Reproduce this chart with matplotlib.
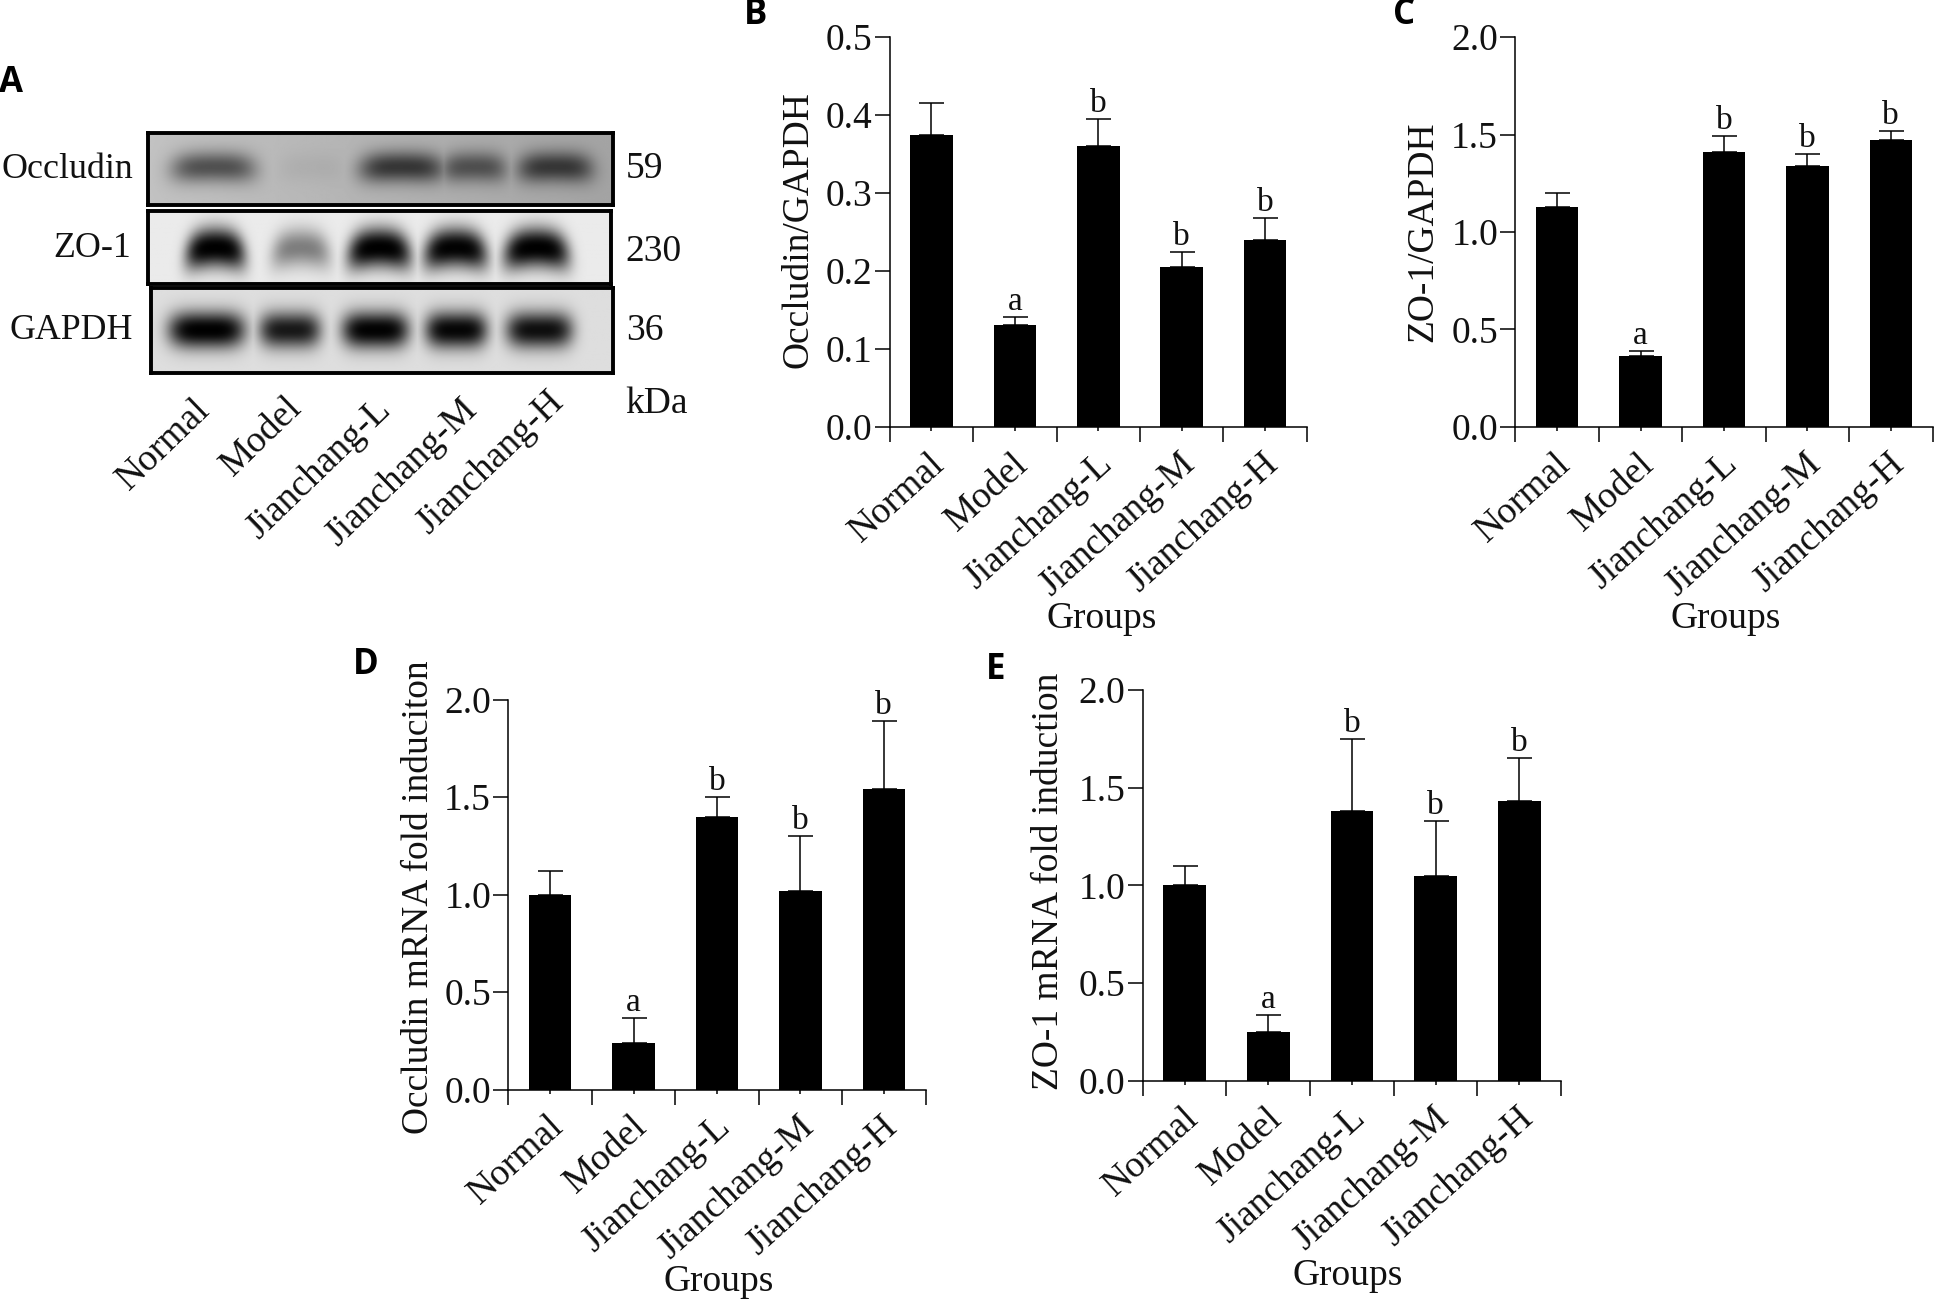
import numpy as np
import matplotlib
matplotlib.use("Agg")
import matplotlib.pyplot as plt
from matplotlib.transforms import ScaledTranslation

W, H = 1935, 1306
S = W / 1568.0  # layout is measured on a 1568-wide view
plt.rcParams['font.family'] = ['Liberation Serif', 'DejaVu Serif']

groups = ['Normal', 'Model', 'Jianchang-L', 'Jianchang-M', 'Jianchang-H']
sig = ['', 'a', 'b', 'b', 'b']

occ_prot = [0.375, 0.131, 0.360, 0.205, 0.240]
occ_prot_top = [0.415, 0.141, 0.395, 0.225, 0.268]
zo_prot = [1.13, 0.365, 1.41, 1.34, 1.47]
zo_prot_top = [1.20, 0.39, 1.49, 1.40, 1.52]
occ_mrna = [1.00, 0.24, 1.40, 1.02, 1.54]
occ_mrna_top = [1.12, 0.37, 1.50, 1.30, 1.89]
zo_mrna = [1.00, 0.25, 1.38, 1.05, 1.43]
zo_mrna_top = [1.10, 0.34, 1.75, 1.33, 1.65]

# western blot: band strength per lane
occ_band = [0.48, 0.04, 0.60, 0.45, 0.58]
zo_band = [0.99, 0.38, 0.99, 0.97, 0.99]
gapdh_band = [0.99, 0.82, 0.97, 0.94, 0.88]
occ_pos = [0.14, 0.35, 0.545, 0.70, 0.875]
zo_pos = [0.145, 0.33, 0.50, 0.665, 0.84]
gapdh_pos = [0.12, 0.30, 0.485, 0.66, 0.84]
occ_w = [0.09, 0.07, 0.09, 0.07, 0.08]
zo_w = [0.062, 0.062, 0.066, 0.066, 0.068]
gapdh_w = [0.08, 0.065, 0.07, 0.065, 0.07]
blot_names = ['Occludin', 'ZO-1', 'GAPDH']
blot_kda = ['59', '230', '36']

fig = plt.figure(figsize=(W / 100, H / 100), dpi=100, facecolor='white')


def px_axes(x0, y0, x1, y1, **kw):
    """Axes from view coordinates (origin top-left)."""
    return fig.add_axes([x0 * S / W, 1 - y1 * S / H, (x1 - x0) * S / W, (y1 - y0) * S / H], **kw)


def t(x, y, s, **kw):
    kw.setdefault('fontsize', 27)
    kw.setdefault('color', '#111111')
    fig.text(x * S / W, 1 - y * S / H, s, **kw)


def blot(box, band, pos, wid, bg, cy, sy, smile, bg_slope=0.0):
    ax = px_axes(*box)
    n, m = 90, 470
    yy, xx = np.mgrid[0:n, 0:m]
    u = xx / (m - 1)
    v = yy / (n - 1)
    dark = np.zeros((n, m))
    for b, p, w in zip(band, pos, wid):
        d = (u - p) / w
        c = cy + smile * d ** 2
        dark = np.maximum(dark, b * np.exp(-np.abs(d) ** 4) * np.exp(-((v - c) / sy) ** 2 * 0.9))
    base = bg - bg_slope * u
    img = base * (1 - dark) ** 1.3
    ax.imshow(img, cmap='gray', vmin=0, vmax=1, aspect='auto', extent=(0, 1, 1, 0), interpolation='bilinear')
    ax.set_xticks([])
    ax.set_yticks([])
    for sp in ax.spines.values():
        sp.set_linewidth(2.8)
        sp.set_color('black')


boxes = [(120, 108, 497, 166), (120, 171, 495, 230), (122, 233, 497, 302)]
blot(boxes[0], occ_band, occ_pos, occ_w, 0.76, 0.47, 0.20, 0.03, 0.12)
blot(boxes[1], zo_band, zo_pos, zo_w, 0.92, 0.50, 0.24, 0.10)
blot(boxes[2], gapdh_band, gapdh_pos, gapdh_w, 0.87, 0.50, 0.19, 0.0)

for name, kda, x, y in zip(blot_names, blot_kda, [108, 106, 108], [137, 201, 268]):
    t(x, y, name, ha='right', va='center', fontsize=25.8)
    t(507, y + (3 if name == 'ZO-1' else 0), kda, ha='left', va='center')
t(507, 327, 'kDa', ha='left', va='center')

for g, x, y in zip(groups, [156, 231, 303, 373, 443], [318, 316, 318, 318, 312]):
    t(x, y, g, rotation=44, ha='right', va='top', rotation_mode='anchor', fontsize=27)


def panel(box, vals, tops, ymax, step, ylabel, yl_xy, grp_xy):
    ax = px_axes(*box)
    x = np.arange(len(vals)) + 0.5
    ax.bar(x, vals, width=0.51, color='black', zorder=3)
    ax.errorbar(x, vals, yerr=[np.zeros(len(vals)), np.array(tops) - np.array(vals)],
                fmt='none', ecolor='black', elinewidth=1.1, capsize=9, capthick=1.1, zorder=2)
    ax.set_xlim(0, len(vals))
    ax.set_ylim(0, ymax)
    for s in ['top', 'right']:
        ax.spines[s].set_visible(False)
    for s in ['left', 'bottom']:
        ax.spines[s].set_linewidth(1.1)
    ax.set_yticks(np.arange(0, ymax + step / 2, step))
    ax.set_yticklabels([f'{v:.1f}' for v in np.arange(0, ymax + step / 2, step)], fontsize=27, color='#111111')
    ax.tick_params(axis='y', length=11, width=1.1, pad=1.5)
    ax.set_xticks(np.arange(len(vals) + 1))
    ax.set_xticklabels([])
    ax.set_xticks(x, minor=True)
    ax.set_xticklabels(groups, minor=True, rotation=42, ha='right', va='top',
                       rotation_mode='anchor', fontsize=27, color='#111111')
    ax.tick_params(axis='x', which='major', length=11, width=1.1)
    ax.tick_params(axis='x', which='minor', length=3, width=1.1, pad=11)
    shift = ScaledTranslation(-2 / 72, 0, fig.dpi_scale_trans)
    for lab in ax.get_xticklabels(minor=True):
        lab.set_transform(lab.get_transform() + shift)
    for xi, top, s in zip(x, tops, sig):
        if s:
            ax.annotate(s, (xi, top), xytext=(0, 0), textcoords='offset points',
                        ha='center', va='bottom', fontsize=24, color='#111111')
    t(yl_xy[0], yl_xy[1], ylabel, rotation=90, ha='center', va='center', fontsize=27)
    t(grp_xy[0], grp_xy[1], 'Groups', ha='center', va='center', fontsize=27)


panel((721, 30, 1059, 346), occ_prot, occ_prot_top, 0.5, 0.1, 'Occludin/GAPDH', (647, 186), (893, 501))
panel((1228, 30, 1566, 346), zo_prot, zo_prot_top, 2.0, 0.5, 'ZO-1/GAPDH', (1153, 188), (1398, 501))
panel((412, 567, 750, 883), occ_mrna, occ_mrna_top, 2.0, 0.5, 'Occludin mRNA fold induciton', (339, 727), (582, 1039))
panel((926, 559, 1265, 876), zo_mrna, zo_mrna_top, 2.0, 0.5, 'ZO-1 mRNA fold induction', (850, 714), (1092, 1034))

for s, x, y in zip('ABCDE', [9, 612, 1138, 296, 807], [67, 12, 12, 539, 543]):
    t(x, y, s, family='Open Sans', fontweight='bold', fontsize=25, ha='center', va='center', color='black')

fig.savefig('out.png', dpi=100, facecolor='white')
